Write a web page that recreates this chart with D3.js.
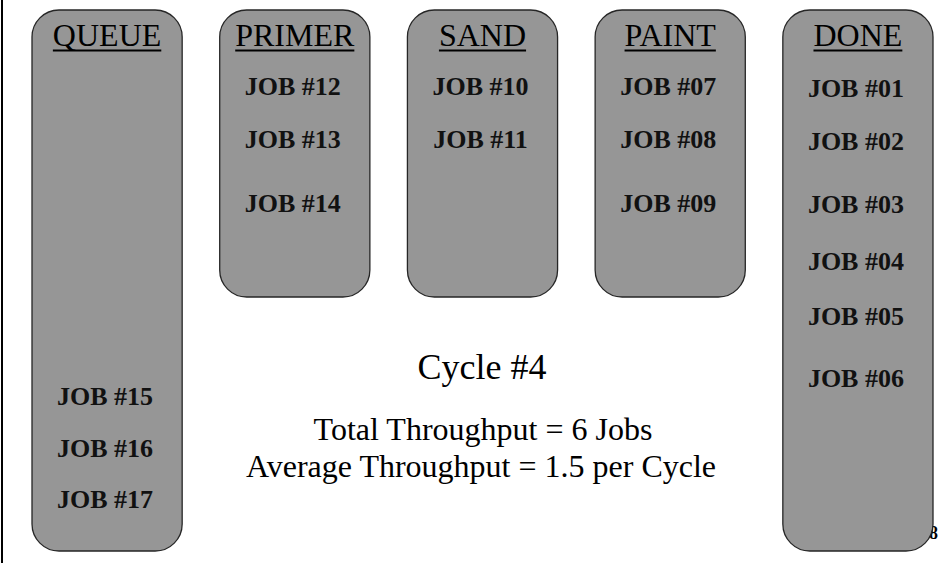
<!DOCTYPE html>
<html>
<head>
<meta charset="utf-8">
<script src="https://cdn.jsdelivr.net/npm/d3@7"></script>
<style>
  body { margin: 0; background: #fff; }
  svg { display: block; }
  text { font-family: "Liberation Serif", "Times New Roman", serif; }
</style>
</head>
<body>
<svg width="950" height="563"></svg>
<script>
// stages of the line, left to right
var stages = ["QUEUE", "PRIMER", "SAND", "PAINT", "DONE"];
// jobs sitting in each stage, with the row (slot) they appear on
var queueJobs = ["JOB #15", "JOB #16", "JOB #17"];
var queueRows = [5.39, 6.3, 7.18];
var primerJobs = ["JOB #12", "JOB #13", "JOB #14"];
var primerRows = [0, 0.92, 2.03];
var sandJobs = ["JOB #10", "JOB #11"];
var sandRows = [0, 0.92];
var paintJobs = ["JOB #07", "JOB #08", "JOB #09"];
var paintRows = [0, 0.92, 2.03];
var doneJobs = ["JOB #01", "JOB #02", "JOB #03", "JOB #04", "JOB #05", "JOB #06"];
var doneRows = [0.03, 0.96, 2.05, 3.04, 4.0, 5.08];
var cycle = 4;
var totalThroughput = 6;
var avgThroughput = 1.5;
var pageNumber = "8";

var svg = d3.select("svg"),
    width = +svg.attr("width"),
    height = +svg.attr("height");

var x = d3.scaleBand().domain(stages).range([32, 933]).paddingInner(0.2);
var y = d3.scaleLinear().domain([0, 7]).range([95, 497.5]);

var jobsByStage = {
  QUEUE: d3.zip(queueJobs, queueRows),
  PRIMER: d3.zip(primerJobs, primerRows),
  SAND: d3.zip(sandJobs, sandRows),
  PAINT: d3.zip(paintJobs, paintRows),
  DONE: d3.zip(doneJobs, doneRows)
};

// left border of the slide
svg.append("rect")
   .attr("x", 1)
   .attr("y", 0)
   .attr("width", 2)
   .attr("height", height)
   .attr("fill", "#000");

// slide number, partly hidden behind the DONE box
svg.append("text")
   .attr("x", 929)
   .attr("y", 539)
   .style("font-size", "18px")
   .style("font-weight", "bold")
   .text(pageNumber);

var boxTop = 10;
function boxBottom(s) {
  return (s === "QUEUE" || s === "DONE") ? 551 : 297;
}

var cols = svg.selectAll("g.stage")
  .data(stages)
  .enter().append("g")
  .attr("class", "stage");

cols.append("rect")
  .attr("x", d => x(d))
  .attr("y", boxTop)
  .attr("width", x.bandwidth())
  .attr("height", d => boxBottom(d) - boxTop)
  .attr("rx", 27)
  .attr("ry", 27)
  .attr("fill", "#969696")
  .attr("stroke", "#262626")
  .attr("stroke-width", 1.3);

var titles = cols.append("text")
  .attr("x", d => x(d) + x.bandwidth() / 2)
  .attr("y", 46)
  .attr("text-anchor", "middle")
  .style("font-size", "32px")
  .attr("fill", "#000")
  .text(d => d);

// underline each title
titles.each(function(d) {
  var w = this.getComputedTextLength();
  var cx = x(d) + x.bandwidth() / 2;
  d3.select(this.parentNode).append("line")
    .attr("x1", cx - w / 2)
    .attr("x2", cx + w / 2)
    .attr("y1", 50.5)
    .attr("y2", 50.5)
    .attr("stroke", "#000")
    .attr("stroke-width", 2);
});

cols.selectAll("text.job")
  .data(d => jobsByStage[d].map(j => ({stage: d, name: j[0], row: j[1]})))
  .enter().append("text")
  .attr("class", "job")
  .attr("x", d => x(d.stage) + x.bandwidth() / 2 - 2)
  .attr("y", d => y(d.row))
  .attr("text-anchor", "middle")
  .style("font-size", "26px")
  .style("font-weight", "bold")
  .attr("fill", "#111")
  .text(d => d.name);

// cycle summary in the middle
var midX = 482;
svg.append("text")
   .attr("x", midX)
   .attr("y", 379)
   .attr("text-anchor", "middle")
   .style("font-size", "36px")
   .text("Cycle #" + cycle);
svg.append("text")
   .attr("x", midX + 1)
   .attr("y", 440)
   .attr("text-anchor", "middle")
   .style("font-size", "32px")
   .text("Total Throughput = " + totalThroughput + " Jobs");
svg.append("text")
   .attr("x", midX - 1)
   .attr("y", 477)
   .attr("text-anchor", "middle")
   .style("font-size", "32px")
   .text("Average Throughput = " + avgThroughput + " per Cycle");
</script>
</body>
</html>
